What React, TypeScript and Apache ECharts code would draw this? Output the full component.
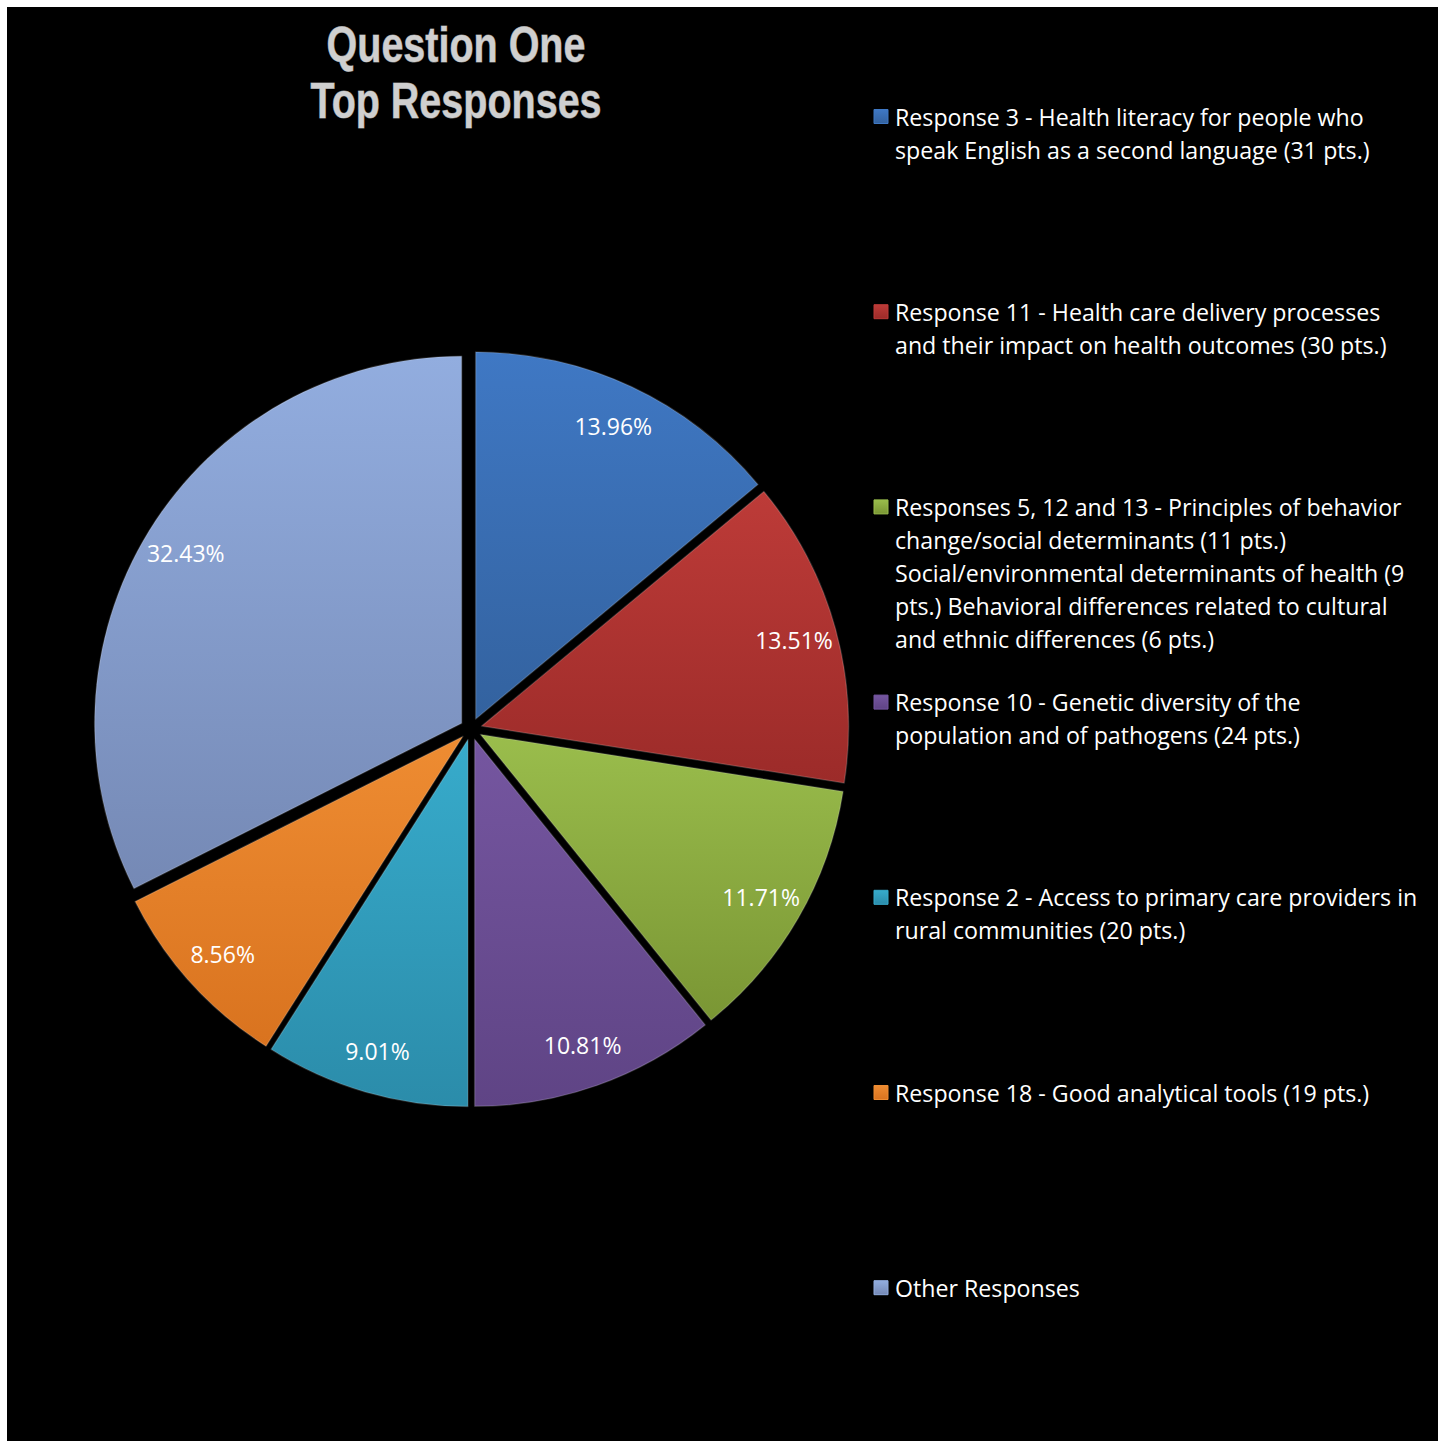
import React, { useEffect, useRef } from "react";
import * as echarts from "echarts";

const titleLines = ["Question One", "Top Responses"];

const categories = [
  "Response 3 - Health literacy for people who\nspeak English as a second language (31 pts.)",
  "Response 11 - Health care delivery processes\nand their impact on health outcomes (30 pts.)",
  "Responses 5, 12 and 13 - Principles of behavior\nchange/social determinants (11 pts.)\nSocial/environmental determinants of health (9\npts.) Behavioral differences related to cultural\nand ethnic differences (6 pts.)",
  "Response 10 - Genetic diversity of the\npopulation and of pathogens (24 pts.)",
  "Response 2 - Access to primary care providers in\nrural communities (20 pts.)",
  "Response 18 - Good analytical tools (19 pts.)",
  "Other Responses",
];

const points = [31, 30, 26, 24, 20, 19, 72];

const colorsTop = ["#3f78c4", "#bd3b38", "#9abd4c", "#7556a0", "#37abcb", "#ee8c32", "#92addf"];
const colorsBottom = ["#33629f", "#9c2b29", "#7a9634", "#5f4485", "#2b8caa", "#d9731f", "#7589b5"];

const LABEL_FONT = "'Open Sans', 'Noto Sans', sans-serif";

function grad(i: number) {
  return new echarts.graphic.LinearGradient(0, 0, 0, 1, [
    { offset: 0, color: colorsTop[i] },
    { offset: 1, color: colorsBottom[i] },
  ]);
}

export default function App() {
  const ref = useRef<HTMLDivElement>(null);
  useEffect(() => {
    if (!ref.current) return;
    const chart = echarts.init(ref.current, null, { renderer: "svg" });
    const cx = 464;
    const cy = 722;
    const R = 367;
    const total = points.reduce((a, b) => a + b, 0);

    const legendGraphics: any[] = [];
    categories.forEach((c, i) => {
      const yc = 109.5 + i * 195.2;
      legendGraphics.push({
        type: "rect",
        shape: { x: 867, y: yc - 7, width: 14, height: 14 },
        style: { fill: grad(i), stroke: colorsTop[i], lineWidth: 1 },
        silent: true,
      });
      legendGraphics.push({
        type: "text",
        x: 888,
        y: yc - 16.5,
        style: {
          text: c,
          fill: "#ffffff",
          font: `23.2px ${LABEL_FONT}`,
          lineHeight: 33,
          verticalAlign: "top",
          align: "left",
        },
        silent: true,
      });
    });

    const titleGraphics = titleLines.map((t, i) => ({
      type: "text",
      x: 449,
      y: 38 + i * 56,
      scaleX: 0.79,
      style: {
        text: t,
        fill: "#cfcfcf",
        font: "bold 50px 'Liberation Sans', Arial, sans-serif",
        align: "center",
        verticalAlign: "middle",
        stroke: "#7a7a7a",
        lineWidth: 1,
      },
      silent: true,
    }));

    chart.setOption({
      animation: false,
      backgroundColor: "#000000",
      graphic: [...titleGraphics, ...legendGraphics],
      series: [
        {
          type: "pie",
          center: [cx, cy],
          radius: [0, R],
          startAngle: 90,
          clockwise: true,
          selectedMode: "multiple",
          selectedOffset: 11,
          silent: true,
          label: { show: false },
          labelLine: { show: false },
          emphasis: { disabled: true },
          itemStyle: { borderColor: "rgba(255,255,255,0.16)", borderWidth: 1.5 },
          select: { itemStyle: { borderColor: "rgba(255,255,255,0.16)", borderWidth: 1.5 } },
          data: categories.map((c, i) => ({
            name: c,
            value: points[i],
            selected: true,
            itemStyle: { color: grad(i) },
          })),
        },
        {
          type: "pie",
          center: [cx, cy],
          radius: [298, 366],
          startAngle: 90,
          clockwise: true,
          silent: true,
          itemStyle: { color: "rgba(0,0,0,0)" },
          emphasis: { disabled: true },
          label: {
            show: true,
            position: "inside",
            formatter: (p: any) => ((p.value / total) * 100).toFixed(2) + "%",
            color: "#ffffff",
            fontFamily: LABEL_FONT,
            fontSize: 23,
          },
          labelLine: { show: false },
          data: categories.map((c, i) => ({ name: c, value: points[i] })),
        },
      ],
    });
    return () => chart.dispose();
  }, []);
  return (
    <div
      ref={ref}
      style={{ position: "absolute", left: 7, top: 7, width: 1431, height: 1434, background: "#000" }}
    />
  );
}
